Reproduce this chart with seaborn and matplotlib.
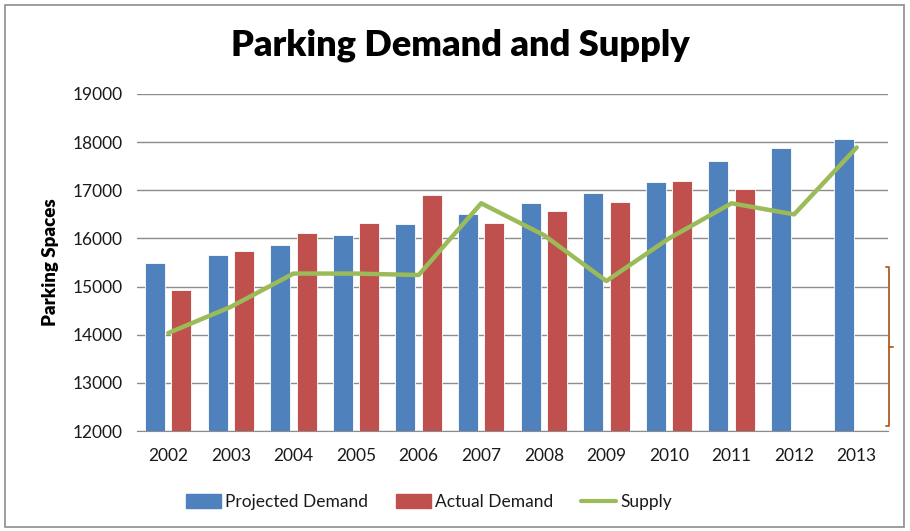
import numpy as np
import pandas as pd
import matplotlib.pyplot as plt
from matplotlib.patches import Rectangle
from matplotlib.lines import Line2D
import seaborn as sns

years = ['2002', '2003', '2004', '2005', '2006', '2007',
         '2008', '2009', '2010', '2011', '2012', '2013']
projected = [15480, 15650, 15865, 16070, 16300, 16515,
             16730, 16945, 17170, 17615, 17870, 18060]
actual = [14930, 15730, 16115, 16330, 16895, 16330,
          16570, 16760, 17195, 17030, np.nan, np.nan]
supply = [14035, 14580, 15270, 15270, 15240, 16730,
          16070, 15115, 16000, 16730, 16500, 17890]

blue = '#4F81BD'
red = '#C0504D'
green = '#9BBB59'

sns.set_style('white')
plt.rcParams['font.family'] = ['Lato', 'DejaVu Sans']

df = pd.DataFrame({'year': years * 2,
                   'value': projected + actual,
                   'series': ['Projected Demand'] * len(years) + ['Actual Demand'] * len(years)})

fig = plt.figure(figsize=(9.1, 5.31), dpi=100)
ax = fig.add_axes([137 / 910, 1 - 431 / 531, 751 / 910, 337 / 531])

sns.barplot(data=df, x='year', y='value', hue='series', order=years,
            hue_order=['Projected Demand', 'Actual Demand'],
            palette=[blue, red], saturation=1, width=0.84, gap=0.24,
            edgecolor='white', linewidth=0.6, ax=ax, legend=False, zorder=2)
sns.lineplot(x=np.arange(len(years)), y=supply, color=green, linewidth=3.2,
             ax=ax, zorder=3)

ax.set_ylim(12000, 19000)
ax.set_xlim(-0.5, len(years) - 0.5)
ax.set_yticks(range(12000, 19001, 1000))
ax.yaxis.grid(True, color='#8c8c8c', linewidth=1)
ax.set_axisbelow(True)
for s in ['left', 'right', 'top']:
    ax.spines[s].set_visible(False)
ax.spines['bottom'].set_color('#8c8c8c')
ax.tick_params(axis='both', length=0, labelsize=12.5, colors='#1a1a1a', pad=10)
ax.tick_params(axis='x', pad=12)
ax.set_xlabel('')
ax.set_ylabel('Parking Spaces', fontsize=13.5, fontweight='heavy', labelpad=10, color='black')

fig.text(460 / 910, 1 - 45 / 531, 'Parking Demand and Supply', ha='center', va='center',
         fontsize=26, fontweight='heavy', color='black')

handles = [Rectangle((0, 0), 1, 1, color=blue), Rectangle((0, 0), 1, 1, color=red),
           Line2D([0], [0], color=green, linewidth=3)]
fig.legend(handles, ['Projected Demand', 'Actual Demand', 'Supply'],
           loc='center', bbox_to_anchor=(429 / 910, 1 - 502 / 531), ncol=3,
           frameon=False, fontsize=12.5, handlelength=2.0, handleheight=0.8,
           columnspacing=1.6, handletextpad=0.25, labelcolor='#1a1a1a')

# outer chart frame
fig.patches.append(Rectangle((5 / 910, 4 / 531), 899 / 910, 522 / 531, transform=fig.transFigure,
                             fill=False, edgecolor='#8c8c8c', linewidth=1.2))
# brace on the right
bx = 889 / 910
fig.lines.append(Line2D([bx - 3 / 910, bx, bx, bx - 3 / 910],
                        [1 - 267 / 531, 1 - 267 / 531, 1 - 426 / 531, 1 - 426 / 531],
                        transform=fig.transFigure, color='#b35a1f', linewidth=1.3))
fig.lines.append(Line2D([bx, bx + 4 / 910], [1 - 347 / 531, 1 - 347 / 531],
                        transform=fig.transFigure, color='#b35a1f', linewidth=1.3))

fig.savefig('out.png', dpi=100)
